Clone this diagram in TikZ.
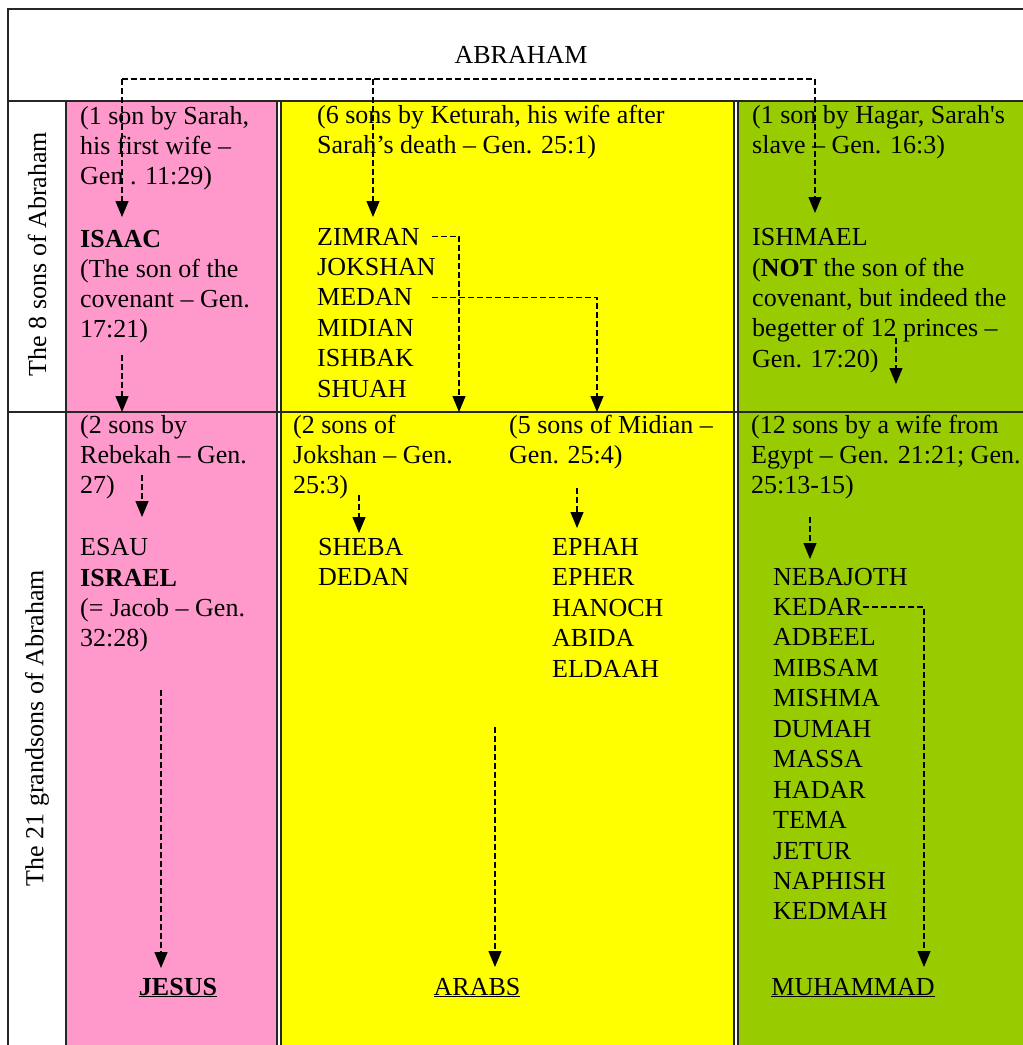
\documentclass[tikz,border=0pt]{standalone}
\usepackage{fontspec}
\setmainfont{Liberation Serif}
\usepackage{xcolor}
\usetikzlibrary{arrows.meta,positioning}
\definecolor{sarahpink}{HTML}{FF99CC}
\definecolor{keturahyellow}{HTML}{FFFF00}
\definecolor{hagargreen}{HTML}{99CC00}
\newcommand{\cellfont}{\fontsize{26}{30.4}\selectfont}

\begin{document}
\begin{tikzpicture}[x=1pt,y=-1pt,
	txt/.style={anchor=base west,inner sep=0pt,align=left,font=\cellfont},
	lbl/.style={inner sep=0pt,font=\cellfont,rotate=90},
	lin/.style={dash pattern=on 6pt off 3pt,line width=1.3pt},
	arr/.style={lin,-{Triangle[width=13pt,length=16pt]}},
	rule/.style={line width=1.5pt,black!85}]
	\useasboundingbox (0,0) rectangle (1023,1045);
	\fill[white] (0,0) rectangle (1023,1045);
	% the three mothers
	\fill[sarahpink] (66,101) rectangle (277,1045);
	\fill[keturahyellow] (281,101) rectangle (734,1045);
	\fill[hagargreen] (738,101) rectangle (1023,1045);
	\draw[rule,line width=2pt] (1023,9) -- (8,9) -- (8,1045);
	\draw[rule] (8,101) -- (1023,101) (8,412) -- (1023,412);
	\foreach \x in {66,277,281,734,738}
		\draw[rule] (\x,101) -- (\x,1045);

	% multi-line texts sit on the baseline of their last line
	\node[txt,anchor=base] (abraham) at (521,63) {ABRAHAM};
	\node[lbl] (sonslbl) at (37,254) {The 8 sons of Abraham};
	\node[lbl] (grandlbl) at (37,728) {The 21 grandsons of Abraham};

	% Sarah
	\node[txt] (sarah) at (80,184.8) {(1 son by Sarah,\\his first wife –\\Gen . 11:29)};
	\node[txt,font=\cellfont\bfseries] (isaac) at (80,247) {ISAAC};
	\node[txt] (isaacnote) at (80,337.8) {(The son of the\\covenant – Gen.\\17:21)};
	\node[txt] (rebekah) at (80,493.8) {(2 sons by\\Rebekah – Gen.\\27)};
	\node[txt] (esau) at (80,555) {ESAU};
	\node[txt,font=\cellfont\bfseries] (israel) at (80,586) {ISRAEL};
	\node[txt] (israelnote) at (80,646.4) {(= Jacob – Gen.\\32:28)};
	\node[txt,anchor=base,font=\cellfont\bfseries] (jesus) at (178,995) {\underline{JESUS}};

	% Keturah
	\node[txt] (keturah) at (317,153.4) {(6 sons by Keturah, his wife after\\Sarah’s death – Gen. 25:1)};
	\foreach \n/\t [count=\i from 0] in {zimran/ZIMRAN,jokshan/JOKSHAN,medan/MEDAN,midian/MIDIAN,ishbak/ISHBAK,shuah/SHUAH}
		\node[txt] (\n) at (317,245+30.4*\i) {\t};
	\node[txt] (jokshannote) at (293,493.8) {(2 sons of\\Jokshan – Gen.\\25:3)};
	\node[txt] (midiannote) at (509,463.4) {(5 sons of Midian –\\Gen. 25:4)};
	\foreach \n/\t [count=\i from 0] in {sheba/SHEBA,dedan/DEDAN}
		\node[txt] (\n) at (318,555+30.5*\i) {\t};
	\foreach \n/\t [count=\i from 0] in {ephah/EPHAH,epher/EPHER,hanoch/HANOCH,abida/ABIDA,eldaah/ELDAAH}
		\node[txt] (\n) at (552,555+30.5*\i) {\t};
	\node[txt,anchor=base] (arabs) at (477,995) {\underline{ARABS}};

	% Hagar
	\node[txt] (hagar) at (752,153.4) {(1 son by Hagar, Sarah\textquotesingle s\\slave – Gen. 16:3)};
	\node[txt] (ishmael) at (752,245) {ISHMAEL};
	\node[txt] (ishmaelnote) at (752,367.2) {(\textbf{NOT} the son of the\\covenant, but indeed the\\begetter of 12 princes –\\Gen. 17:20)};
	\node[txt] (egypt) at (751,493.8) {(12 sons by a wife from\\Egypt – Gen. 21:21; Gen.\\25:13-15)};
	\foreach \n/\t [count=\i from 0] in {nebajoth/NEBAJOTH,kedar/KEDAR,adbeel/ADBEEL,mibsam/MIBSAM,mishma/MISHMA,dumah/DUMAH,massa/MASSA,hadar/HADAR,tema/TEMA,jetur/JETUR,naphish/NAPHISH,kedmah/KEDMAH}
		\node[txt] (\n) at (773,585+30.45*\i) {\t};
	\node[txt,anchor=base] (muhammad) at (853,995) {\underline{MUHAMMAD}};

	% lines of descent
	\coordinate (forkL) at (122,79);
	\coordinate (forkM) at (373,79);
	\coordinate (forkR) at (815,79);
	\draw[lin] (forkL) -- (forkR);
	\draw[arr] (forkL) -- (122,217);
	\draw[arr] (forkM) -- (373,217);
	\draw[arr] (forkR) -- (815,213);
	\draw[arr] (122,355) -- (122,412);
	\draw[arr] (142,475) -- (142,517);
	\draw[arr] (161,690) -- (161,968);
	\draw[arr] (zimran.east -| 432,0) -| (459,412);
	\draw[arr] (medan.east -| 432,0) -| (597,412);
	\draw[arr] (359,495) -- (359,533);
	\draw[arr] (577,488) -- (577,528);
	\draw[arr] (495,727) -- (495,967);
	\draw[arr] (896,338) -- (896,384);
	\draw[arr] (810,517) -- (810,559);
	\draw[arr] (kedar.east) -| (924,967);
\end{tikzpicture}
\end{document}
